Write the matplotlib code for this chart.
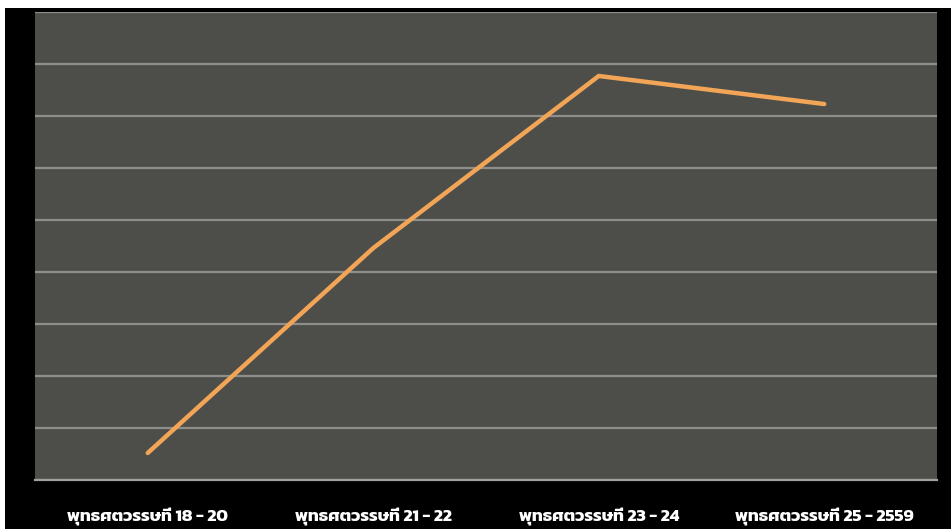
import matplotlib
matplotlib.use("Agg")
import matplotlib.pyplot as plt
from matplotlib import font_manager
from matplotlib.patches import Rectangle

categories = [
    "พุทธศตวรรษที่ 18 - 20",
    "พุทธศตวรรษที่ 21 - 22",
    "พุทธศตวรรษที่ 23 - 24",
    "พุทธศตวรรษที่ 25 - 2559",
]
values = [0.52, 4.46, 7.77, 7.23]

installed = {f.name for f in font_manager.fontManager.ttflist}
thai_font = next((n for n in ["Kanit", "Prompt", "Noto Sans Thai", "Sarabun", "Bai Jamjuree"]
                  if n in installed), "DejaVu Sans")
families = [thai_font, "DejaVu Sans"]

fig = plt.figure(figsize=(9.51, 5.29), dpi=100, facecolor="black")
ax = fig.add_axes([0.0368, 0.0926, 0.9485, 0.8847])
ax.set_facecolor("#4d4e49")

x = range(len(categories))
ax.plot(x, values, color="#f2a556", lw=3.2, solid_capstyle="round",
        solid_joinstyle="round", zorder=3)

ax.set_xlim(-0.5, len(categories) - 0.5)
ax.set_ylim(0, 9)
ax.set_yticks(range(0, 10))
ax.yaxis.grid(True, color="#8e8e8a", lw=1.6)
ax.set_axisbelow(True)
ax.tick_params(axis="y", left=False, labelleft=False)
ax.tick_params(axis="x", bottom=False, colors="white", pad=16)
ax.set_xticks(list(x))
ax.set_xticklabels(categories, family=families, fontsize=12.5, fontweight="bold",
                   color="white")
for side in ["top", "left", "right"]:
    ax.spines[side].set_visible(False)
ax.spines["bottom"].set_color("#a0a09c")
ax.spines["bottom"].set_linewidth(1.6)

# thin white border on the top and left of the picture
fig.patches.append(Rectangle((0, 1 - 8 / 529), 1, 8 / 529, transform=fig.transFigure,
                             facecolor="white", edgecolor="none", zorder=-1))
fig.patches.append(Rectangle((0, 0), 5 / 951, 1, transform=fig.transFigure,
                             facecolor="white", edgecolor="none", zorder=-1))

fig.savefig("out.png", dpi=100, facecolor="black")
